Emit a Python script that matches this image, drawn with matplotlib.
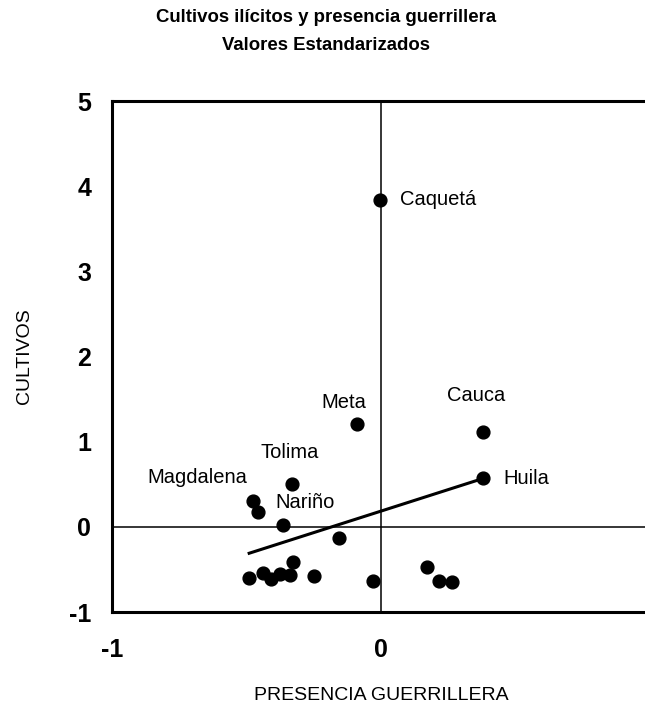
import matplotlib.pyplot as plt
import numpy as np

# standardized values
presencia = [-0.005, -0.088, 0.38, 0.38, -0.33, -0.475, -0.456, -0.365, -0.156,
             -0.49, -0.44, -0.41, -0.375, -0.34, -0.326, -0.25, -0.03, 0.172, 0.216, 0.263]
cultivos = [3.84, 1.21, 1.11, 0.57, 0.50, 0.30, 0.18, 0.02, -0.13,
            -0.60, -0.54, -0.61, -0.55, -0.56, -0.41, -0.58, -0.63, -0.47, -0.63, -0.65]
nombres = ["Caquetá", "Meta", "Cauca", "Huila", "Tolima", "Magdalena", "", "Nariño", "",
           "", "", "", "", "", "", "", "", "", "", ""]

# linear trend line as drawn in the chart
trend_slope = 1.01
trend_intercept = 0.185

x_ticks = [-1, 0, 1]
y_ticks = [-1, 0, 1, 2, 3, 4, 5]

# label offsets (pixels) and alignment per labelled point
label_pos = {
    "Caquetá": ((20, 0), "left"),
    "Meta": ((-13, 21), "center"),
    "Cauca": ((-7, 37), "center"),
    "Huila": ((20, 0), "left"),
    "Tolima": ((-3, 32), "center"),
    "Magdalena": ((-56, 24), "center"),
    "Nariño": ((22, 23), "center"),
}

plt.rcParams['font.family'] = ['Liberation Sans', 'DejaVu Sans']

fig = plt.figure(figsize=(6.45, 7.06), dpi=100)
ax = fig.add_axes([0.1736, 0.1331, 0.8341, 0.7238])

ax.axhline(0, color='black', lw=1.1, zorder=1)
ax.axvline(0, color='black', lw=1.1, zorder=1)

ax.scatter(presencia, cultivos, s=85, color='black', zorder=3)

xt = np.array([min(presencia), max(presencia)])
ax.plot(xt, trend_slope * xt + trend_intercept, color='black', lw=2.2, zorder=2)

for x, y, n in zip(presencia, cultivos, nombres):
    if not n:
        continue
    off, ha = label_pos[n]
    ax.annotate(n, (x, y), xytext=off, textcoords='offset pixels',
                ha=ha, va='center', fontsize=14.5)

ax.set_xlim(-1, 1)
ax.set_ylim(-1, 5)
ax.set_xticks(x_ticks)
ax.set_yticks(y_ticks)
ax.set_xticklabels([str(t) for t in x_ticks])
ax.set_yticklabels([str(t) for t in y_ticks])
for lab in ax.get_xticklabels() + ax.get_yticklabels():
    lab.set_fontweight('bold')
    lab.set_fontsize(18)
ax.tick_params(axis='both', length=0)
ax.tick_params(axis='x', pad=19)
ax.tick_params(axis='y', pad=15)

for s in ['left', 'bottom', 'top', 'right']:
    ax.spines[s].set_linewidth(2.2)

ax.set_xlabel("PRESENCIA GUERRILLERA", fontsize=14, labelpad=18)
ax.set_ylabel("CULTIVOS", fontsize=14, labelpad=26)

fig.text(326 / 645, 1 - 18 / 706, "Cultivos ilícitos y presencia guerrillera",
         ha='center', va='center', fontsize=13.4, weight='bold')
fig.text(326 / 645, 1 - 45 / 706, "Valores Estandarizados",
         ha='center', va='center', fontsize=13.4, weight='bold')

fig.savefig("out.png", dpi=100)
